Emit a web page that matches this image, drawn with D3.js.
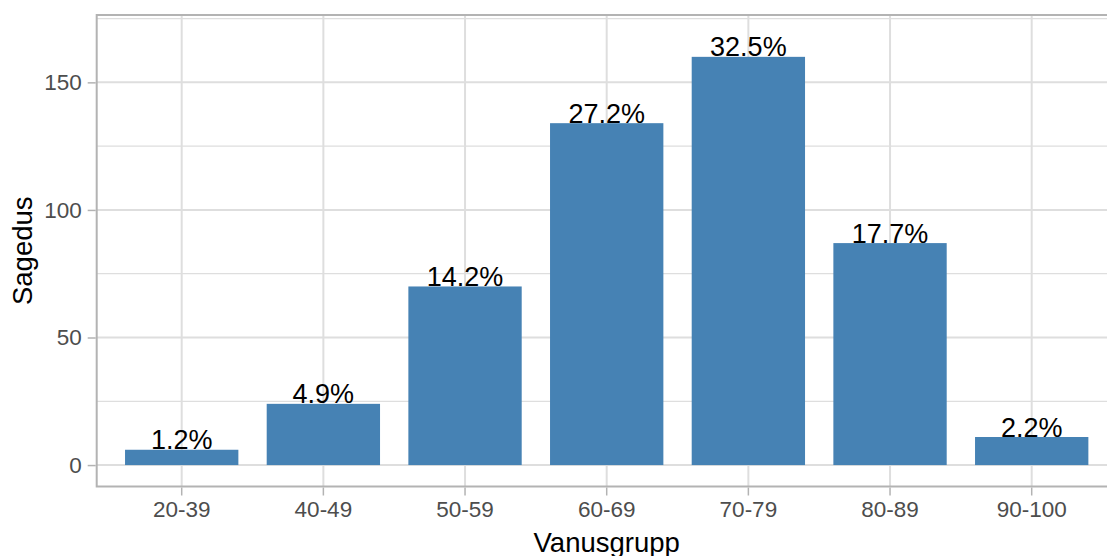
<!DOCTYPE html>
<html>
<head>
<meta charset="utf-8">
<script src="https://cdn.jsdelivr.net/npm/d3@7"></script>
<style>
  html, body { margin: 0; padding: 0; background: #ffffff; overflow: hidden; }
  svg { display: block; font-family: "Liberation Sans", Arial, sans-serif; }
</style>
</head>
<body>
<svg id="chart" width="1107" height="556"></svg>
<script>
const categories = ["20-39", "40-49", "50-59", "60-69", "70-79", "80-89", "90-100"];
const counts = [6, 24, 70, 134, 160, 87, 11];
const percentLabels = ["1.2%", "4.9%", "14.2%", "27.2%", "32.5%", "17.7%", "2.2%"];
const yTicks = [0, 50, 100, 150];
const yMinorTicks = [25, 75, 125, 175];
const yDomain = [-8.4, 176.4];
const xTitle = "Vanusgrupp";
const yTitle = "Sagedus";

const svg = d3.select("#chart");
const W = 1107, H = 556;
const panel = { left: 96.7, right: 1116.7, top: 15, bottom: 486.5 };

const x = d3.scaleBand()
  .domain(categories)
  .range([panel.left, panel.right])
  .paddingInner(0.2)
  .paddingOuter(0.2);

const y = d3.scaleLinear()
  .domain(yDomain)
  .range([panel.bottom, panel.top]);

svg.append("rect").attr("width", W).attr("height", H).attr("fill", "#ffffff");

const grid = svg.append("g");
grid.selectAll("line.minor").data(yMinorTicks).join("line")
  .attr("x1", panel.left).attr("x2", panel.right)
  .attr("y1", d => y(d)).attr("y2", d => y(d))
  .attr("stroke", "#dedede").attr("stroke-width", 1.3);
grid.selectAll("line.majorY").data(yTicks).join("line")
  .attr("x1", panel.left).attr("x2", panel.right)
  .attr("y1", d => y(d)).attr("y2", d => y(d))
  .attr("stroke", "#dedede").attr("stroke-width", 2);
grid.selectAll("line.majorX").data(categories).join("line")
  .attr("x1", d => x(d) + x.bandwidth() / 2).attr("x2", d => x(d) + x.bandwidth() / 2)
  .attr("y1", panel.top).attr("y2", panel.bottom)
  .attr("stroke", "#dedede").attr("stroke-width", 2);

svg.append("g").selectAll("rect").data(categories).join("rect")
  .attr("x", d => x(d))
  .attr("width", x.bandwidth())
  .attr("y", (d, i) => y(counts[i]))
  .attr("height", (d, i) => y(0) - y(counts[i]))
  .attr("fill", "#4682B4");

svg.append("g").selectAll("text").data(categories).join("text")
  .attr("x", d => x(d) + x.bandwidth() / 2)
  .attr("y", (d, i) => y(counts[i]) - 0.5)
  .attr("text-anchor", "middle")
  .attr("font-size", 27)
  .attr("fill", "#000000")
  .text((d, i) => percentLabels[i]);

svg.append("rect")
  .attr("x", panel.left).attr("y", panel.top)
  .attr("width", panel.right - panel.left).attr("height", panel.bottom - panel.top)
  .attr("fill", "none").attr("stroke", "#b3b3b3").attr("stroke-width", 2);

const yAxis = d3.axisLeft(y).tickValues(yTicks).tickSize(8).tickPadding(6).tickFormat(d3.format("d"));
const gy = svg.append("g").attr("transform", `translate(${panel.left - 1},0)`).call(yAxis);
gy.select(".domain").remove();
gy.selectAll(".tick line").attr("stroke", "#b3b3b3").attr("stroke-width", 1.5);
gy.selectAll(".tick text").attr("fill", "#4d4d4d").attr("font-size", 22.5)
  .attr("font-family", "Liberation Sans, Arial, sans-serif");

const xAxis = d3.axisBottom(x).tickSize(8).tickPadding(6);
const gx = svg.append("g").attr("transform", `translate(0,${panel.bottom + 1})`).call(xAxis);
gx.select(".domain").remove();
gx.selectAll(".tick line").attr("stroke", "#b3b3b3").attr("stroke-width", 1.5);
gx.selectAll(".tick text").attr("fill", "#4d4d4d").attr("font-size", 22.5)
  .attr("font-family", "Liberation Sans, Arial, sans-serif");

svg.append("text")
  .attr("x", (panel.left + panel.right) / 2).attr("y", 552)
  .attr("text-anchor", "middle").attr("font-size", 27.5).attr("fill", "#000000")
  .text(xTitle);
svg.append("text")
  .attr("transform", `translate(32,${(panel.top + panel.bottom) / 2}) rotate(-90)`)
  .attr("text-anchor", "middle").attr("font-size", 27.5).attr("fill", "#000000")
  .text(yTitle);
</script>
</body>
</html>
